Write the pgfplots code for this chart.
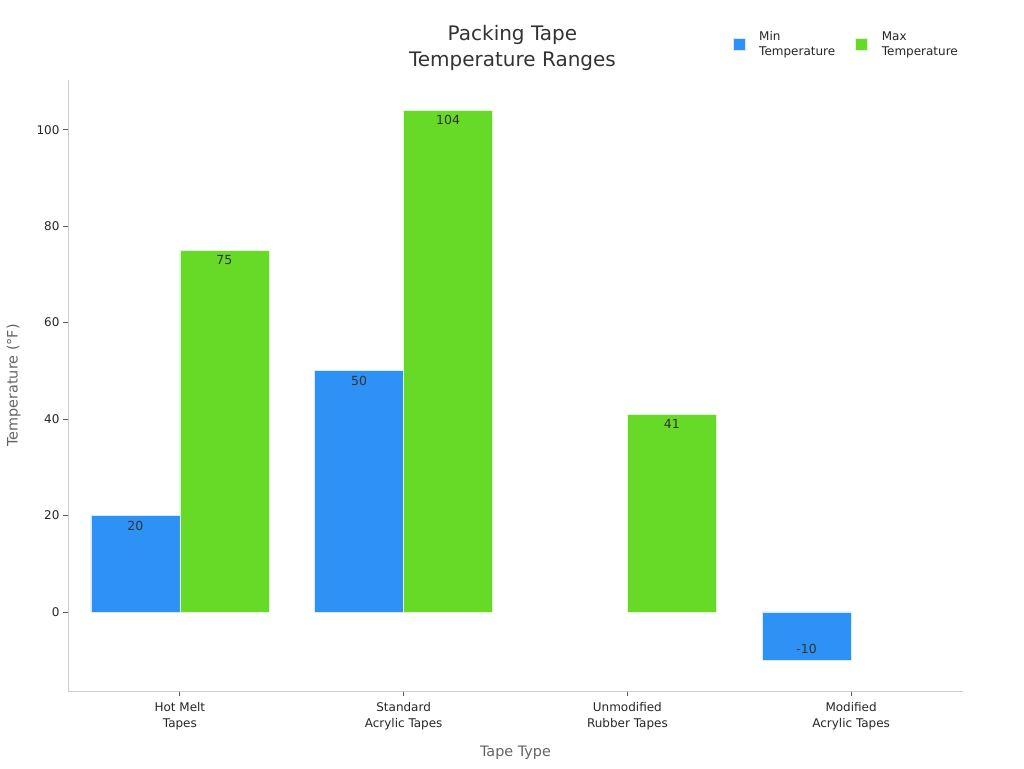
\documentclass[border=0pt]{standalone}
\usepackage{pgfplots}
\pgfplotsset{compat=1.18}
\usepackage{fontspec}
\setmainfont{DejaVu Sans}

\definecolor{minblue}{RGB}{46,145,245}
\definecolor{maxgreen}{RGB}{102,218,38}
\definecolor{axisgray}{RGB}{204,204,204}
\definecolor{tickgray}{RGB}{90,90,90}
\definecolor{labelgray}{RGB}{100,100,100}
\definecolor{titlegray}{RGB}{51,51,51}
\definecolor{textdark}{RGB}{38,38,38}

\begin{document}
\begin{tikzpicture}
\path[use as bounding box] (0,0) rectangle (1024pt,768pt);
\begin{axis}[
  at={(68pt,77pt)}, anchor=south west,
  width=895pt, height=611pt, scale only axis,
  ybar=0pt, bar width=89pt,
  xmin=-0.5, xmax=3.5,
  ymin=-16.4, ymax=110.3,
  xtick={0,1,2,3},
  xticklabels={{Hot Melt\\Tapes},{Standard\\Acrylic Tapes},{Unmodified\\Rubber Tapes},{Modified\\Acrylic Tapes}},
  x tick label style={align=center, font=\fontsize{12}{16}\selectfont, text=textdark, yshift=-3pt},
  ytick={0,20,40,60,80,100},
  y tick label style={font=\fontsize{12}{14}\selectfont, text=textdark},
  /pgf/number format/assume math mode=true,
  axis x line*=bottom, axis y line*=left,
  axis line style={draw=axisgray, line width=0.8pt, -},
  tick align=outside, major tick length=5pt,
  tick style={draw=tickgray, line width=0.8pt},
  xlabel={Tape Type}, ylabel={Temperature (°F)},
  label style={font=\fontsize{14.4}{16}\selectfont, text=labelgray},
  xlabel style={yshift=-9pt},
  ylabel style={yshift=9pt},
  title={Packing Tape\\Temperature Ranges},
  title style={align=center, font=\fontsize{20}{26}\selectfont, text=titlegray,
    at={(0.4966,1)}, anchor=south, yshift=0pt},
  legend columns=2,
  legend style={draw=none, fill=none, at={(0.739,1.086)}, anchor=north west,
    font=\fontsize{12}{15}\selectfont, text=textdark,
    nodes={align=left, inner xsep=2pt},
    /tikz/every odd column/.append style={column sep=12pt},
    /tikz/every even column/.append style={column sep=18pt}},
  legend cell align=left,
  legend image code/.code={\fill[#1] (0pt,-6pt) rectangle (12pt,6pt);},
  visualization depends on={rawy \as \ry},
  nodes near coords,
  every node near coord/.append style={anchor=center, font=\fontsize{12.5}{14}\selectfont,
    text=titlegray, yshift={(\ry<0 ? 11 : -10)}},
]
\addplot[fill=minblue, draw=white!80!minblue, line width=0.6pt]
  coordinates {(0,20) (1,50) (3,-10)};
\addlegendentry{Min\\Temperature}
\addplot[fill=maxgreen, draw=white!80!maxgreen, line width=0.6pt]
  coordinates {(0,75) (1,104) (2,41)};
\addlegendentry{Max\\Temperature}
\end{axis}
\end{tikzpicture}
\end{document}
